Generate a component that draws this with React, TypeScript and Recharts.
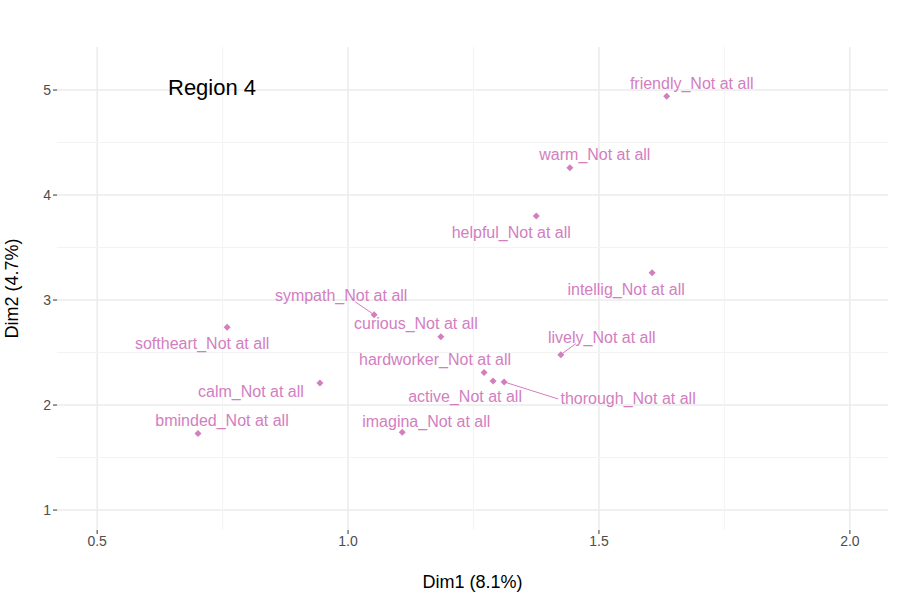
import React from 'react';
import { ScatterChart, Scatter, XAxis, YAxis, CartesianGrid, ReferenceLine } from 'recharts';

const names = ['friendly_Not at all','warm_Not at all','helpful_Not at all','intellig_Not at all','sympath_Not at all','curious_Not at all','softheart_Not at all','lively_Not at all','hardworker_Not at all','active_Not at all','thorough_Not at all','calm_Not at all','bminded_Not at all','imagina_Not at all'];
const dim1 = [1.635,1.442,1.375,1.606,1.052,1.185,0.759,1.424,1.271,1.289,1.311,0.944,0.701,1.108];
const dim2 = [4.94,4.26,3.80,3.26,2.86,2.65,2.74,2.48,2.31,2.23,2.22,2.21,1.73,1.74];
const labelDx = [25,25,-25,-26,-33,-25,-25,41,-49,-28,124,-69,24,24];
const labelDy = [-13,-13,16,17,-19,-13,16,-17,-13,16,17,8,-13,-11];
const segment = [false,false,false,false,true,false,false,true,false,false,true,false,false,false];
const xTicks = [0.5,1.0,1.5,2.0];
const yTicks = [1,2,3,4,5];
const xMinor = [0.75,1.25,1.75];
const yMinor = [1.5,2.5,3.5,4.5];

const data = names.map((n,i)=>({name:n,x:dim1[i],y:dim2[i],dx:labelDx[i],dy:labelDy[i],seg:segment[i]}));
const COL = '#D27EBF';

const Shape = (p: any) => {
  const { cx, cy, payload } = p;
  const s = 3.5;
  const lx = cx + payload.dx, ly = cy + payload.dy;
  return (
    <g>
      {payload.seg && <line x1={cx} y1={cy} x2={lx + (payload.dx>60?-70:payload.dx>0?-26:14)} y2={ly + (payload.dy>0?0:6)} stroke={COL} strokeWidth={1}/>}
      <polygon points={`${cx},${cy-s} ${cx+s},${cy} ${cx},${cy+s} ${cx-s},${cy}`} fill={COL}/>
      <text x={lx} y={ly} textAnchor="middle" dominantBaseline="central" fill={COL} fontSize={16} fontFamily="Liberation Sans, Arial, sans-serif">{payload.name}</text>
    </g>
  );
};

export default function App() {
  return (
    <div style={{position:'absolute',left:0,top:0,width:900,height:600,background:'#fff',fontFamily:'Liberation Sans, Arial, sans-serif'}}>
      <ScatterChart width={900} height={600} margin={{top:47,right:12,left:0,bottom:0}}>
        <CartesianGrid stroke="#EBEBEB" strokeWidth={1.5} verticalValues={xTicks} horizontalValues={yTicks} />
        {xMinor.map(v=> <ReferenceLine key={'x'+v} x={v} stroke="#F3F3F3" strokeWidth={1} />)}
        {yMinor.map(v=> <ReferenceLine key={'y'+v} y={v} stroke="#F3F3F3" strokeWidth={1} />)}
        <XAxis type="number" dataKey="x" domain={[0.42,2.076]} ticks={xTicks} allowDataOverflow height={70}
          tickFormatter={(v:number)=>v.toFixed(1)} axisLine={false} tickSize={4} tickLine={{stroke:'#333'}}
          tick={{fill:'#4D4D4D',fontSize:14}}
          label={{value:'Dim1 (8.1%)',position:'insideBottom',offset:12,fill:'#000',fontSize:18}} />
        <YAxis type="number" dataKey="y" domain={[0.81,5.41]} ticks={yTicks} allowDataOverflow width={57}
          axisLine={false} tickSize={4} tickLine={{stroke:'#333'}} tick={{fill:'#4D4D4D',fontSize:14}}
          label={{value:'Dim2 (4.7%)',angle:-90,position:'insideLeft',offset:12,dy:50,fill:'#000',fontSize:18}} />
        <Scatter data={data} isAnimationActive={false} shape={<Shape/>} />
      </ScatterChart>
      <div style={{position:'absolute',left:168,top:75,fontSize:22,color:'#000'}}>Region 4</div>
    </div>
  );
}
